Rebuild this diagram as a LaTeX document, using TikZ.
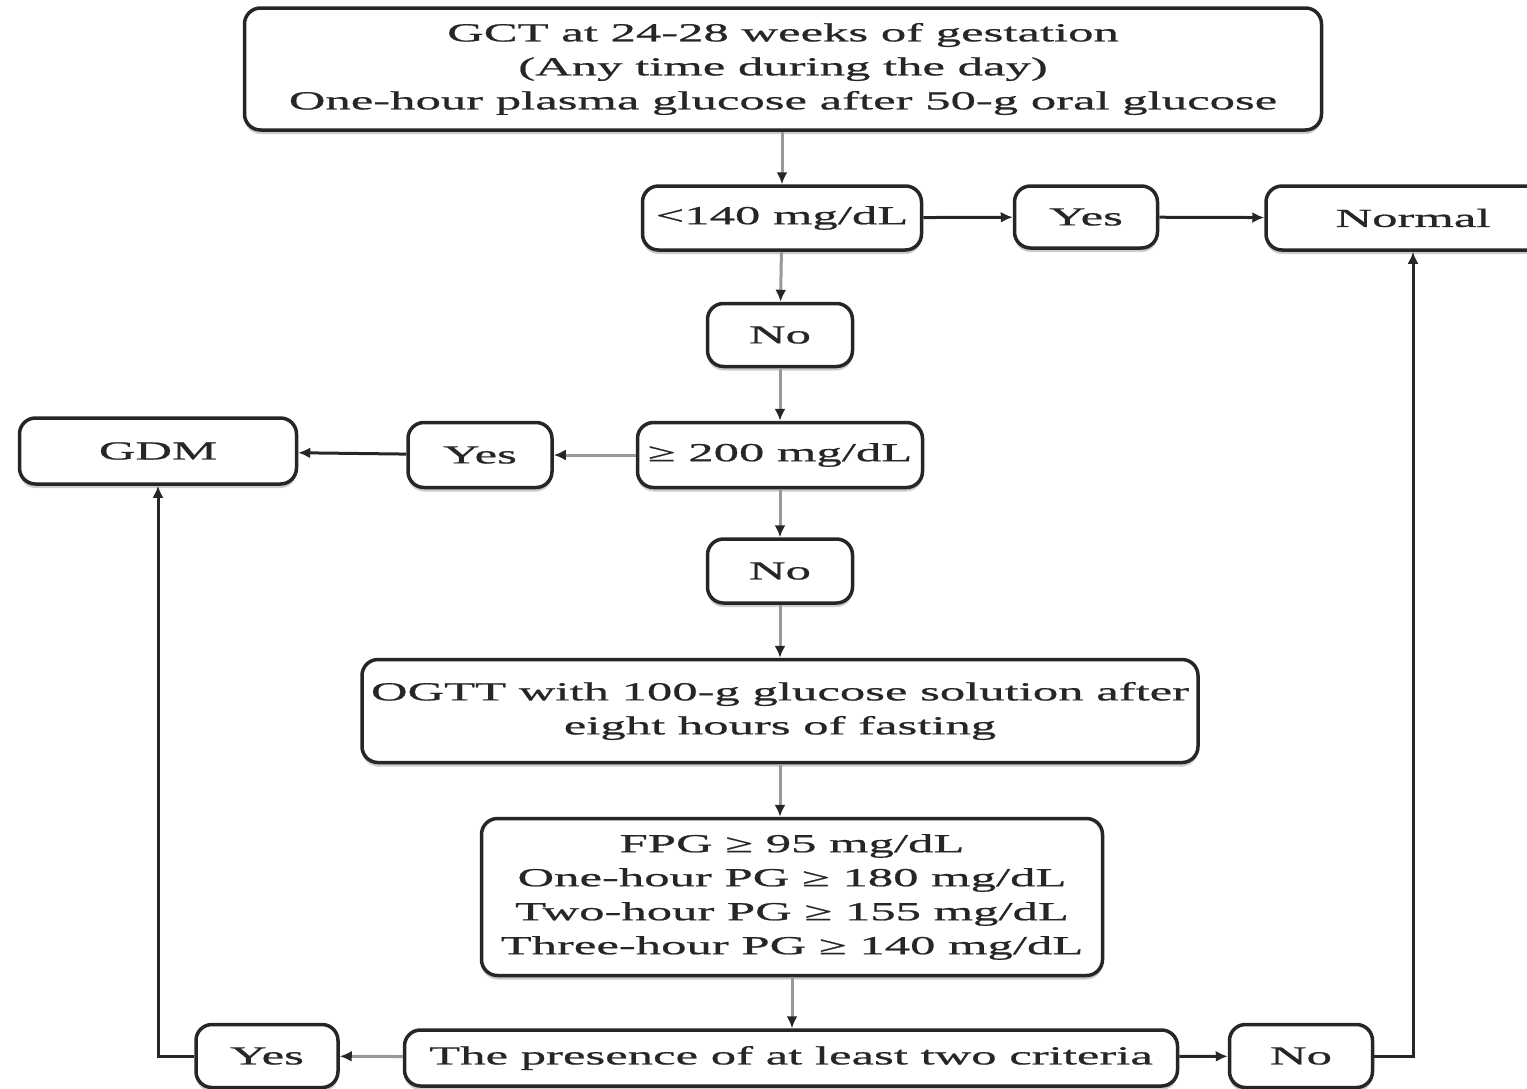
\documentclass[tikz,border=0pt]{standalone}
\usepackage{fontspec}
\setmainfont[FakeStretch=1.95, FakeBold=0.8]{Liberation Serif}
\usetikzlibrary{arrows.meta, shadows}

\begin{document}
\begin{tikzpicture}[x=1pt, y=-1pt,
		block/.style={
			rectangle,
			draw=black!85,
			fill=white,
			line width=3.5pt,
			rounded corners=16pt,
			inner sep=0pt,
			align=center,
			text=black!85,
			font=\fontsize{26}{34}\selectfont,
			drop shadow={shadow xshift=0pt, shadow yshift=-4pt, fill=black!40}
		},
		arrow/.style={-{Latex[length=12pt, width=11pt, color=black!85]}, line width=3pt, black!85},
		greyarrow/.style={arrow, draw=black!40}]

		\useasboundingbox (0,0) rectangle (1527,1088);

		\node [block, minimum width=1077pt, minimum height=122pt] (gct) at (783,69) {GCT at 24-28 weeks of gestation\\(Any time during the day)\\One-hour plasma glucose after 50-g oral glucose};
		\node [block, minimum width=279pt, minimum height=64pt] (lt) at (782,218) {<140 mg/dL};
		\node [block, minimum width=143pt, minimum height=62pt] (yesA) at (1086,217) {Yes};
		\node [block, minimum width=294pt, minimum height=64pt] (normal) at (1413,218) {Normal};
		\node [block, minimum width=145pt, minimum height=63pt] (noA) at (780,335) {No};
		\node [block, minimum width=285pt, minimum height=65pt] (ge) at (780,455) {≥ 200 mg/dL};
		\node [block, minimum width=144pt, minimum height=65pt] (yesB) at (480,455) {Yes};
		\node [block, minimum width=277pt, minimum height=66pt] (gdm) at (158,451) {GDM};
		\node [block, minimum width=145pt, minimum height=64pt] (noB) at (780,571) {No};
		\node [block, minimum width=836pt, minimum height=103pt] (ogtt) at (780,711) {OGTT with 100-g glucose solution after\\eight hours of fasting};
		\node [block, minimum width=621pt, minimum height=157pt] (fpg) at (792,897) {FPG ≥ 95 mg/dL\\One-hour PG ≥ 180 mg/dL\\Two-hour PG ≥ 155 mg/dL\\Three-hour PG ≥ 140 mg/dL};
		\node [block, minimum width=773pt, minimum height=56pt] (crit) at (791,1058) {The presence of at least two criteria};
		\node [block, minimum width=142pt, minimum height=63pt] (yesC) at (267,1056) {Yes};
		\node [block, minimum width=143pt, minimum height=63pt] (noC) at (1301,1056) {No};

		\draw [greyarrow] (gct.south -| lt) -- (lt);
		\draw [greyarrow] (lt) -- (noA);
		\draw [greyarrow] (noA) -- (ge);
		\draw [greyarrow] (ge) -- (noB);
		\draw [greyarrow] (noB) -- (ogtt);
		\draw [greyarrow] (ogtt) -- (ogtt |- fpg.north);
		\draw [greyarrow] (fpg) -- (fpg |- crit.north);
		\draw [arrow] (lt) -- (yesA);
		\draw [arrow] (yesA) -- (normal);
		\draw [greyarrow] (ge) -- (yesB);
		\draw [arrow] (yesB) -- (gdm);
		\draw [greyarrow] (crit) -- (yesC);
		\draw [arrow] (crit) -- (noC);
		\draw [arrow] (yesC.west) -| (gdm.south);
		\draw [arrow] (noC.east) -| (normal.south);
	\end{tikzpicture}
\end{document}
